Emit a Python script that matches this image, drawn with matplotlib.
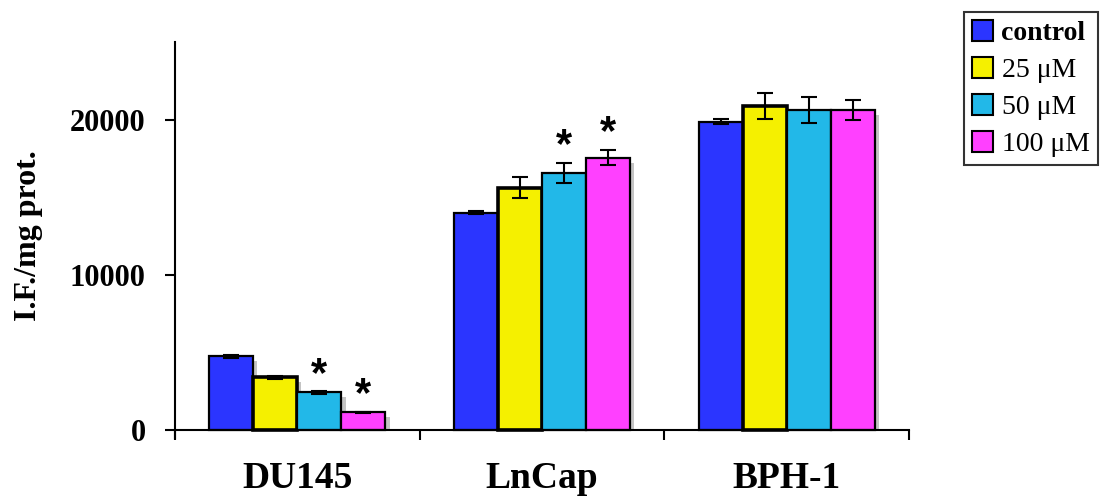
import matplotlib.pyplot as plt
import numpy as np

# cell lines and treatments
cells = ['DU145', 'LnCap', 'BPH-1']
doses = ['control', '25 \u03bcM', '50 \u03bcM', '100 \u03bcM']
colors = ['#2b35ff', '#f5f000', '#22b8e8', '#ff40ff']

# I.F./mg prot. values, one list per dose (DU145, LnCap, BPH-1)
control = [4750, 14020, 19870]
dose25 = [3400, 15630, 20900]
dose50 = [2440, 16590, 20640]
dose100 = [1160, 17560, 20640]

control_err = [90, 100, 150]
dose25_err = [80, 650, 840]
dose50_err = [80, 640, 840]
dose100_err = [40, 510, 640]

# significance marks (True = asterisk above bar)
sig50 = [True, True, False]
sig100 = [True, True, False]

values = [control, dose25, dose50, dose100]
errors = [control_err, dose25_err, dose50_err, dose100_err]
sigs = [[False] * 3, [False] * 3, sig50, sig100]

serif = 'Liberation Serif'

fig = plt.figure(figsize=(11.02, 4.97), dpi=100)
ax = fig.add_axes([175 / 1102, 1 - 438 / 497, 734 / 1102, 396 / 497])

ind = np.arange(len(cells))
width = 0.18
dx = 0.017   # shadow shift to the right
dy = 320     # shadow drop

handles = []
for i in range(4):
    x = ind + (i - 1.5) * width
    v = np.array(values[i])
    ax.bar(x + dx, v - dy, width, color='#c4c4c4', edgecolor='none', zorder=1)
    lw = 2.6 if i == 1 else 1.6
    b = ax.bar(x, v, width, color=colors[i], edgecolor='black', linewidth=lw, zorder=2)
    handles.append(b)
    ax.errorbar(x, v, yerr=errors[i], fmt='none', ecolor='black',
                elinewidth=1.5, capsize=6, capthick=1.5, zorder=3)
    for xi, vi, ei, s in zip(x, v, errors[i], sigs[i]):
        if s:
            ax.text(xi, vi + ei - 250, '*', ha='center', va='bottom',
                    fontsize=30, fontweight='bold', family='Liberation Sans', zorder=4)

ax.set_xlim(-0.5, 2.5)
ax.set_ylim(-500, 25000)
ax.spines['top'].set_visible(False)
ax.spines['right'].set_visible(False)
ax.spines['bottom'].set_position(('data', 0))
ax.spines['bottom'].set_linewidth(1.5)
ax.spines['left'].set_linewidth(1.5)
ax.spines['left'].set_bounds(-500, 25000)

ax.set_yticks([0, 10000, 20000])
ax.set_yticklabels(['0', '10000', '20000'], family=serif, fontweight='bold', fontsize=22)
ax.tick_params(axis='y', direction='out', length=7, width=1.5, pad=14)

ax.set_xticks(ind)
ax.set_xticklabels(cells, family=serif, fontweight='bold', fontsize=27)
ax.set_xticks([-0.5, 0.5, 1.5, 2.5], minor=True)
ax.tick_params(axis='x', which='major', length=0, pad=22)
ax.tick_params(axis='x', which='minor', direction='out', length=7, width=1.5)

ax.set_ylabel('I.F./mg prot.', family=serif, fontweight='bold', fontsize=23)
ax.yaxis.set_label_coords(-0.18, 0.51)

leg = fig.legend(handles, doses, loc='upper left',
                 bbox_to_anchor=(964 / 1102, 1 - 12 / 497),
                 prop={'family': serif, 'size': 20},
                 frameon=True, fancybox=False, edgecolor='black',
                 handlelength=0.75, handleheight=0.75, handletextpad=0.3,
                 labelspacing=0.4, borderpad=0.3, borderaxespad=0)
leg.get_frame().set_linewidth(1.5)
leg.get_texts()[0].set_fontweight('bold')
for p in leg.legend_handles:
    p.set_linewidth(1.5)

plt.savefig('out.png', dpi=100)
